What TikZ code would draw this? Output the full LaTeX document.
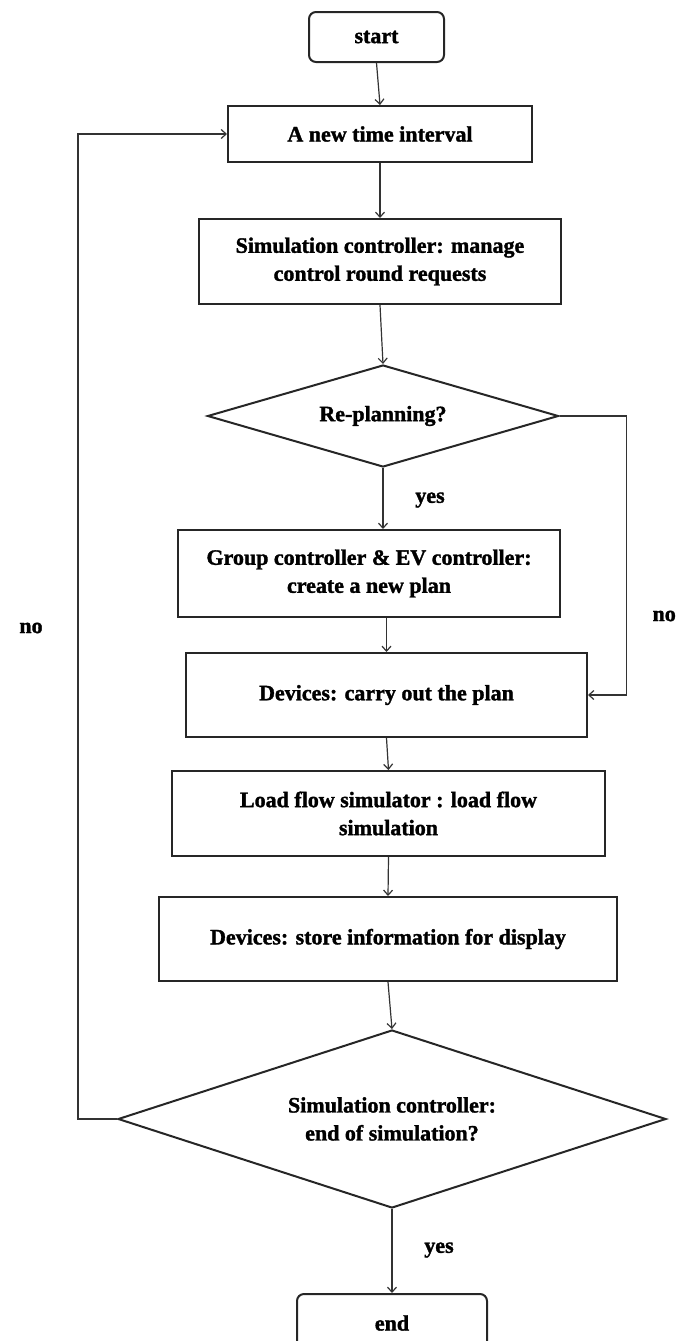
\documentclass[tikz,border=0pt]{standalone}
\usepackage{fontspec}
\setmainfont[BoldFeatures={FakeBold=1.5}]{Liberation Serif}
\usetikzlibrary{shapes.geometric,arrows.meta}
\begin{document}
\begin{tikzpicture}[x=1pt,y=-1pt,
  every node/.style={font=\fontsize{22}{28}\selectfont\bfseries, text=black},
  procbox/.style={draw=black!85, line width=2pt, rectangle, inner sep=0pt, align=center},
  termbox/.style={procbox, rounded corners=7pt},
  decision/.style={draw=black!85, line width=2pt, diamond, inner sep=0pt, align=center},
  flow/.style={draw=black!80, line width=1.2pt, -{Straight Barb[length=5pt,width=9pt]}},
  lbl/.style={inner sep=0pt}
]
\useasboundingbox (0,0) rectangle (677,1341);

% process chain
\node[termbox, minimum width=135pt, minimum height=50pt] (start) at (376.5,37) {start};
\node[procbox, minimum width=304pt, minimum height=56pt] (new) at (380,134) {A new time interval};
\node[procbox, minimum width=362pt, minimum height=85pt] (sim) at (380,261.5)
  {Simulation controller: manage\\control round requests};
\node[decision, shape aspect=3.44, minimum width=351pt, minimum height=102pt] (replan) at (383,416) {Re-planning?};
\node[procbox, minimum width=382pt, minimum height=87pt] (group) at (369,573.5)
  {Group controller \& EV controller:\\create a new plan};
\node[procbox, minimum width=401pt, minimum height=84pt] (dev1) at (386.5,695) {Devices: carry out the plan};
\node[procbox, minimum width=433pt, minimum height=85pt] (load) at (388.5,813.5)
  {Load flow simulator : load flow\\simulation};
\node[procbox, minimum width=458pt, minimum height=84pt] (store) at (388,939) {Devices: store information for display};
\node[decision, shape aspect=3.08, minimum width=548pt, minimum height=178pt] (endq) at (392,1119)
  {Simulation controller:\\end of simulation?};
\node[termbox, minimum width=190pt, minimum height=58pt] (end) at (392,1323) {end};

% branch labels
\node[lbl] (yes1) at (430,500) {yes};
\node[lbl] (yes2) at (439,1250) {yes};
\node[lbl] (noL) at (31,628) {no};
\node[lbl, anchor=east] (noR) at (676,616) {no};

% connectors
\draw[flow] (start.south) -- (new.north);
\draw[flow] (new.south) -- (sim.north);
\draw[flow] (sim.south) -- (replan.north);
\draw[flow] (replan.south) -- (replan.south |- group.north);
\draw[flow] (dev1.north |- group.south) -- (dev1.north);
\draw[flow] (dev1.south) -- (load.north);
\draw[flow] (load.south) -- (store.north);
\draw[flow] (store.south) -- (endq.north);
\draw[flow] (endq.south) -- (end.north);
\draw[flow] (replan.east) -- ++(67,0) |- (dev1.east);
\draw[flow] (endq.west) -- ++(-39,0) |- (new.west);
\end{tikzpicture}
\end{document}
